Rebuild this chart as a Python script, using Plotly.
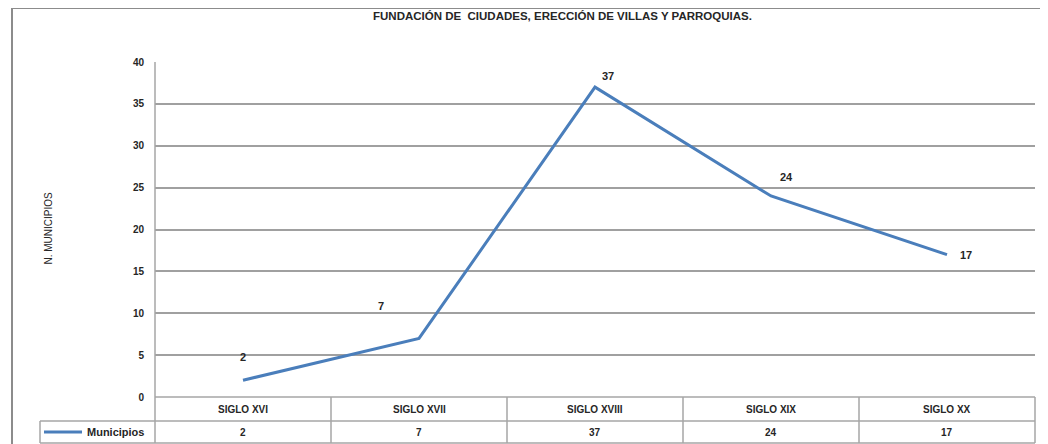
import plotly.graph_objects as go

# Data
categories = ["SIGLO XVI", "SIGLO XVII", "SIGLO XVIII", "SIGLO XIX", "SIGLO XX"]
municipios = [2, 7, 37, 24, 17]
y_ticks = [0, 5, 10, 15, 20, 25, 30, 35, 40]
series_name = "Municipios"
title_text = "FUNDACIÓN DE  CIUDADES, ERECCIÓN DE VILLAS Y PARROQUIAS."
y_title = "N. MUNICIPIOS"

# Label offsets (px) for the data labels, Excel places them a bit around the points
label_shifts = [(0, 23), (-38, 32), (13, 11), (15, 19), (19, 0)]

# The page body adds an 8px margin, so work in page pixels minus that
OFF = 8
W, H = 1048 - OFF, 444 - OFF
PL, PR, PT, PB = 155 - OFF, 1035 - OFF, 62 - OFF, 397 - OFF
FONT = "Liberation Sans Narrow, Liberation Sans, Arial"
GRID = "#a0a0a0"
TXT = "#262626"


def xp(px):
    # page pixel -> paper x
    return (px - OFF - PL) / (PR - PL)


def yp(py):
    # page pixel -> paper y
    return (PB - (py - OFF)) / (PB - PT)


x_idx = list(range(len(categories)))

fig = go.Figure()
fig.add_trace(go.Scatter(
    x=x_idx, y=municipios, mode="lines",
    line=dict(color="#4a7ebb", width=3),
    showlegend=False, hoverinfo="skip",
))

shapes = []
annotations = []

# Outer chart frame
shapes.append(dict(type="line", xref="paper", yref="paper", x0=xp(12), x1=xp(1060),
                   y0=yp(8), y1=yp(8), line=dict(color="#8c8c8c", width=2)))
shapes.append(dict(type="line", xref="paper", yref="paper", x0=xp(12), x1=xp(12),
                   y0=yp(8), y1=yp(450), line=dict(color="#8c8c8c", width=2)))

# Data table lines
tbl = dict(color="#a6a6a6", width=1.5)
left, right = 155, 1035
row1, row2, row3 = 397, 421, 443
shapes.append(dict(type="line", xref="paper", yref="paper", x0=xp(left), x1=xp(right),
                   y0=yp(row1), y1=yp(row1), line=tbl))
shapes.append(dict(type="line", xref="paper", yref="paper", x0=xp(40), x1=xp(right),
                   y0=yp(row2), y1=yp(row2), line=tbl))
shapes.append(dict(type="line", xref="paper", yref="paper", x0=xp(40), x1=xp(right),
                   y0=yp(row3), y1=yp(row3), line=tbl))
shapes.append(dict(type="line", xref="paper", yref="paper", x0=xp(left), x1=xp(left),
                   y0=yp(62), y1=yp(row3), line=tbl))
shapes.append(dict(type="line", xref="paper", yref="paper", x0=xp(right), x1=xp(right),
                   y0=yp(row1), y1=yp(row3), line=tbl))
shapes.append(dict(type="line", xref="paper", yref="paper", x0=xp(40), x1=xp(40),
                   y0=yp(row2), y1=yp(row3), line=tbl))
for i in x_idx[:-1]:
    shapes.append(dict(type="line", xref="x", yref="paper", x0=i + 0.5, x1=i + 0.5,
                       y0=yp(row1), y1=yp(row3), line=tbl))

# Legend key in table
shapes.append(dict(type="line", xref="paper", yref="paper", x0=xp(44), x1=xp(82),
                   y0=yp(432), y1=yp(432), line=dict(color="#4a7ebb", width=3)))
annotations.append(dict(x=xp(85), y=yp(432), xref="paper", yref="paper", text=series_name,
                        showarrow=False, xanchor="left", yanchor="middle",
                        font=dict(family=FONT, size=11, color=TXT, weight="bold")))

# Table cells
for i, cat in enumerate(categories):
    annotations.append(dict(x=i, y=yp((row1 + row2) / 2), xref="x", yref="paper", text=cat,
                            showarrow=False, yanchor="middle",
                            font=dict(family=FONT, size=10, color=TXT, weight="bold")))
    annotations.append(dict(x=i, y=yp((row2 + row3) / 2), xref="x", yref="paper",
                            text=str(municipios[i]), showarrow=False, yanchor="middle",
                            font=dict(family=FONT, size=10, color=TXT, weight="bold")))

# Data labels
for i, v in enumerate(municipios):
    dx, dy = label_shifts[i]
    annotations.append(dict(x=i, y=v, xref="x", yref="y", text=str(v), showarrow=False,
                            xshift=dx, yshift=dy,
                            font=dict(family=FONT, size=11, color=TXT, weight="bold")))

# Title and y title
annotations.append(dict(x=xp(562), y=yp(16), xref="paper", yref="paper", text=title_text,
                        showarrow=False, yanchor="middle",
                        font=dict(family=FONT, size=11.5, color=TXT, weight="bold")))
annotations.append(dict(x=xp(40), y=yp(228), xref="paper", yref="paper", text=y_title,
                        showarrow=False, textangle=-90,
                        font=dict(family=FONT, size=10, color=TXT)))

fig.update_layout(
    width=W, height=H,
    margin=dict(l=PL, r=W - PR, t=PT, b=H - PB, pad=0),
    paper_bgcolor="white", plot_bgcolor="white",
    shapes=shapes, annotations=annotations,
    xaxis=dict(range=[-0.5, len(categories) - 0.5], showticklabels=False, showgrid=False,
               zeroline=False, showline=False, ticks=""),
    yaxis=dict(range=[0, 40], tickvals=y_ticks, showgrid=True, gridcolor=GRID, gridwidth=1.5,
               zeroline=False, showline=False, ticks="", ticklabelstandoff=10,
               tickfont=dict(family=FONT, size=10, color=TXT, weight="bold")),
)

fig.write_html("out.html")
